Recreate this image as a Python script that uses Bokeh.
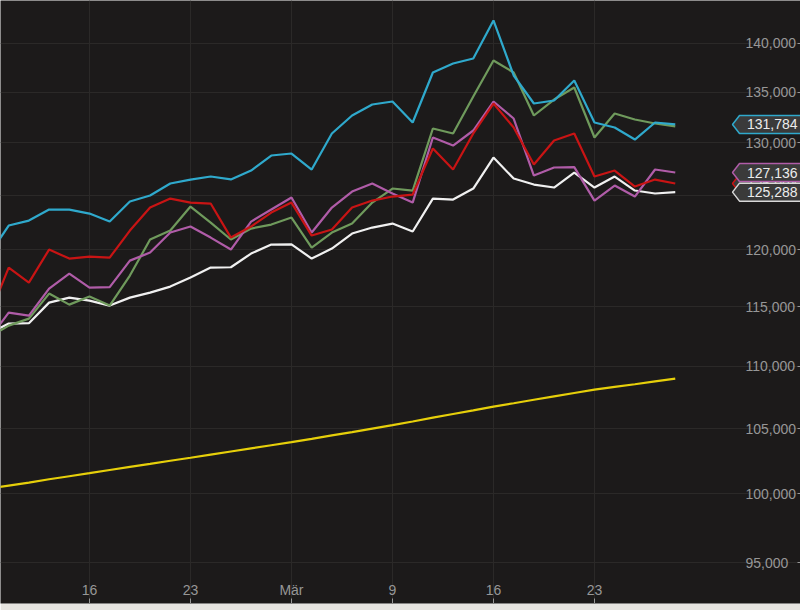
import math
from bokeh.plotting import figure
from bokeh.models import Range1d, FixedTicker, NumeralTickFormatter
from bokeh.embed import file_html
from bokeh.resources import INLINE
from bokeh.core.properties import value

# ---------------- data ----------------
dates = [
    "2015-02-09", "2015-02-10", "2015-02-11", "2015-02-12", "2015-02-13",
    "2015-02-16", "2015-02-17", "2015-02-18", "2015-02-19", "2015-02-20",
    "2015-02-23", "2015-02-24", "2015-02-25", "2015-02-26", "2015-02-27",
    "2015-03-02", "2015-03-03", "2015-03-04", "2015-03-05", "2015-03-06",
    "2015-03-09", "2015-03-10", "2015-03-11", "2015-03-12", "2015-03-13",
    "2015-03-16", "2015-03-17", "2015-03-18", "2015-03-19", "2015-03-20",
    "2015-03-23", "2015-03-24", "2015-03-25", "2015-03-26", "2015-03-27",
]
tick_dates = ["2015-02-16", "2015-02-23", "2015-03-02", "2015-03-09", "2015-03-16", "2015-03-23"]
tick_labels = ["16", "23", "Mär", "9", "16", "23"]
y_ticks = [95000, 100000, 105000, 110000, 115000, 120000, 125000, 130000, 135000, 140000]

series_blue = [119490, 122200, 122653, 123668, 123660, 123299, 122562, 124408, 124968, 126094,
               126470, 126756, 126480, 127326, 128761, 128954, 127421, 130896, 132668, 133763,
               134062, 131975, 137002, 137925, 138441, 142427, 136694, 133862, 134161, 136182,
               131975, 131484, 130307, 131975, 131784]
series_red = [114077, 118422, 117100, 120026, 119219, 119399, 119309, 121743, 123853, 124688,
              124315, 124223, 121106, 122107, 123391, 124315, 121288, 121834, 123853, 124500,
              124875, 125063, 129437, 127421, 130896, 133862, 131484, 127897, 130210, 130896,
              126756, 127326, 125812, 126470, 126094]
series_purple = [112215, 114506, 114249, 116578, 117892, 116665, 116700, 119040, 119757, 121561,
                 122107, 121106, 120026, 122562, 123668, 124781, 121561, 123853, 125343, 126094,
                 125157, 124315, 130503, 129727, 131190, 134062, 132370, 126851, 127612, 127650,
                 124500, 125906, 124875, 127421, 127136]
series_green = [112384, 113398, 113991, 116143, 115191, 115882, 115106, 117716, 120924, 121743,
                123946, 122471, 120930, 121925, 122289, 122930, 120205, 121561, 122380, 124315,
                125625, 125437, 131386, 130896, 134564, 138233, 137002, 132668, 134262, 135474,
                130503, 132868, 132270, 131877, 131600]
series_white = [112722, 113567, 113600, 115363, 115795, 115534, 115106, 115795, 116230, 116752,
                117539, 118422, 118450, 119668, 120474, 120500, 119219, 120115, 121470, 122016,
                122380, 121652, 124688, 124594, 125625, 128568, 126565, 126000, 125719, 127136,
                125719, 126756, 125437, 125157, 125288]
series_yellow = [100390, 100620, 100850, 101100, 101330, 101560, 101800, 102040, 102270, 102510,
                 102740, 102980, 103220, 103460, 103700, 103940, 104200, 104470, 104730, 105000,
                 105270, 105560, 105860, 106150, 106440, 106740, 107010, 107290, 107560, 107830,
                 108100, 108320, 108540, 108770, 108990]

# ---------------- styling ----------------
BG = "#1c1a1a"
GRID = "#2b2928"
LABEL = "#979797"
FONT = "Liberation Sans"
colors = {
    "yellow": "#e6cf0a",
    "white": "#f0f0f0",
    "green": "#6f9a5c",
    "purple": "#b05ca8",
    "red": "#c81414",
    "blue": "#2fa9cc",
}

X0, X1 = 0.594, 40.2
Y0, Y1 = 92140, 144570
FW, FH = 800, 603

x = list(range(len(dates)))

p = figure(frame_width=FW, frame_height=FH, y_axis_type="log",
           x_range=Range1d(X0, X1), y_range=Range1d(Y0, Y1),
           y_axis_location="right", output_backend="svg", toolbar_location=None,
           min_border=0, min_border_bottom=7)
p.background_fill_color = BG
p.border_fill_color = "#e7e5e1"
p.outline_line_color = None

# x axis
p.xaxis.ticker = FixedTicker(ticks=[dates.index(d) for d in tick_dates])
p.xaxis.major_label_overrides = {dates.index(d): lab for d, lab in zip(tick_dates, tick_labels)}
p.xaxis.major_tick_in = 5
p.xaxis.major_tick_out = 0
p.xaxis.major_label_standoff = -22
p.xaxis.minor_tick_line_color = None
p.xaxis.axis_line_color = None
p.xaxis.major_tick_line_color = LABEL
p.xaxis.major_label_text_color = LABEL
p.xaxis.major_label_text_font = FONT
p.xaxis.major_label_text_font_size = "14px"

# y axis (labels drawn inside the frame, at its right edge)
p.yaxis.ticker = FixedTicker(ticks=y_ticks)
p.yaxis.formatter = NumeralTickFormatter(format="0,0")
p.yaxis.major_tick_in = 3
p.yaxis.major_tick_out = 0
p.yaxis.major_label_standoff = -55
p.yaxis.minor_tick_line_color = None
p.yaxis.axis_line_color = None
p.yaxis.major_tick_line_color = LABEL
p.yaxis.major_label_text_color = LABEL
p.yaxis.major_label_text_font = FONT
p.yaxis.major_label_text_font_size = "14px"

p.xgrid.grid_line_color = GRID
p.ygrid.grid_line_color = GRID

# lines
p.line(x, series_yellow, line_color=colors["yellow"], line_width=2.2)
p.line(x, series_white, line_color=colors["white"], line_width=2.2)
p.line(x, series_green, line_color=colors["green"], line_width=2.2)
p.line(x, series_purple, line_color=colors["purple"], line_width=2.2)
p.line(x, series_red, line_color=colors["red"], line_width=2.2)
p.line(x, series_blue, line_color=colors["blue"], line_width=2.2)

# badges for last values
ppu_x = FW / (X1 - X0)
ppl_y = FH / math.log(Y1 / Y0)

def px_to_x(px):
    return X0 + px / ppu_x

def badge(v, color):
    f = math.exp(9.0 / ppl_y)
    tip = px_to_x(732)
    left = px_to_x(739)
    right = px_to_x(801)
    xs = [tip, left, right, right, left]
    ys = [v, v * f, v * f, v / f, v / f]
    r1 = p.patch(xs, ys, fill_color="#3a3a3a", line_color=color, line_width=1.5)
    r2 = p.text(x=[px_to_x(797)], y=[v], text=[f"{v:,}"], text_align="right",
                text_baseline="middle", text_color="#ececec", text_font=value(FONT),
                text_font_size="14px")
    r1.level = "overlay"
    r2.level = "overlay"

badge(series_blue[-1], colors["blue"])
badge(series_red[-1], colors["red"])
badge(series_purple[-1], colors["purple"])
badge(series_white[-1], "#d8d8d8")

open("out.html", "w").write(file_html(p, INLINE))
